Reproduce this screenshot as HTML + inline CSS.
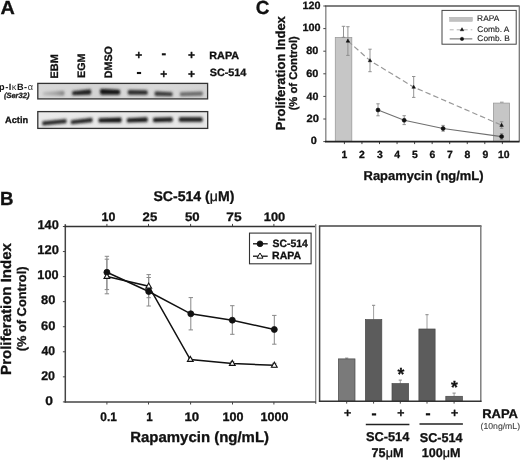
<!DOCTYPE html><html><head><meta charset="utf-8"><title>Figure</title><style>html,body{margin:0;padding:0;background:#fff;width:520px;height:460px;overflow:hidden;}svg{display:block;filter:grayscale(1) blur(0.3px);}text{text-rendering:geometricPrecision;}</style></head><body>
<svg width="520" height="460" viewBox="0 0 520 460" font-family='"Liberation Sans", sans-serif'>
<defs><filter id="bl" x="-20%" y="-100%" width="140%" height="300%"><feGaussianBlur stdDeviation="0.85"/></filter><filter id="bl3" x="-20%" y="-100%" width="140%" height="300%"><feGaussianBlur stdDeviation="1.6"/></filter><linearGradient id="blotbg" x1="0" y1="0" x2="1" y2="0"><stop offset="0" stop-color="#d8d8d8"/><stop offset="0.35" stop-color="#d4d4d4"/><stop offset="0.7" stop-color="#d9d9d9"/><stop offset="1" stop-color="#d3d3d3"/></linearGradient><linearGradient id="g_ebm" x1="0" y1="0" x2="1" y2="0"><stop offset="0" stop-color="#bdbdbd"/><stop offset="0.6" stop-color="#a4a4a4"/><stop offset="1" stop-color="#858585"/></linearGradient><linearGradient id="blotbg2" x1="0" y1="0" x2="1" y2="0"><stop offset="0" stop-color="#eaeaea"/><stop offset="1" stop-color="#e6e6e6"/></linearGradient></defs>
<text x="0.5" y="14" font-size="19" font-weight="bold" fill="#111" stroke="#111" stroke-width="0.3" textLength="14.34" lengthAdjust="spacingAndGlyphs" >A</text>
<text transform="translate(58,78.51) rotate(-90)" font-size="10.8" font-weight="bold" fill="#111" stroke="#111" stroke-width="0.3" textLength="24.24" lengthAdjust="spacingAndGlyphs">EBM</text>
<text transform="translate(85.2,77.99) rotate(-90)" font-size="10.8" font-weight="bold" fill="#111" stroke="#111" stroke-width="0.3" textLength="24.32" lengthAdjust="spacingAndGlyphs">EGM</text>
<text transform="translate(111.8,78.2) rotate(-90)" font-size="10.8" font-weight="bold" fill="#111" stroke="#111" stroke-width="0.3" textLength="32.18" lengthAdjust="spacingAndGlyphs">DMSO</text>
<text x="138.7" y="59.3" font-size="12" font-weight="bold" text-anchor="middle" fill="#111" stroke="#111" stroke-width="0.3" >+</text>
<text x="191.6" y="59.3" font-size="12" font-weight="bold" text-anchor="middle" fill="#111" stroke="#111" stroke-width="0.3" >+</text>
<rect x="161.85" y="53.25" width="3.9" height="2.1" fill="#111" stroke="none" stroke-width="1" />
<rect x="136.9" y="71.95" width="4.2" height="2.1" fill="#111" stroke="none" stroke-width="1" />
<text x="163.8" y="77.9" font-size="12" font-weight="bold" text-anchor="middle" fill="#111" stroke="#111" stroke-width="0.3" >+</text>
<text x="191.6" y="77.9" font-size="12" font-weight="bold" text-anchor="middle" fill="#111" stroke="#111" stroke-width="0.3" >+</text>
<text x="209.3" y="59.4" font-size="10.6" font-weight="bold" fill="#111" stroke="#111" stroke-width="0.3" textLength="29.82" lengthAdjust="spacingAndGlyphs" >RAPA</text>
<text x="209.68" y="76.4" font-size="10.6" font-weight="bold" fill="#111" stroke="#111" stroke-width="0.3" textLength="36.69" lengthAdjust="spacingAndGlyphs" >SC-514</text>
<rect x="37.8" y="83.4" width="169.8" height="15.5" fill="url(#blotbg)" stroke="#333" stroke-width="1.3" />
<path d="M42.6,91.1 L64.4,89.8 L64.4,96.6 L42.6,96.5Z" fill="url(#g_ebm)" opacity="0.22" filter="url(#bl3)"/>
<path d="M43.6,92.3 L63.4,91 Q65.38,93.2 63.4,95.4 L43.6,95.3 Q42.25,93.8 43.6,92.3Z" fill="url(#g_ebm)" filter="url(#bl)"/>
<path d="M71.9,90.3 L91,88.2 L91,95.6 L71.9,96.1Z" fill="#222" opacity="0.22" filter="url(#bl3)"/>
<path d="M72.9,91.5 L90,89.4 Q92.25,91.9 90,94.4 L72.9,94.9 Q71.37,93.2 72.9,91.5Z" fill="#222" filter="url(#bl)"/>
<path d="M100.2,87.9 L120.1,88.8 L120.1,95.6 L100.2,95.7Z" fill="#161616" opacity="0.22" filter="url(#bl3)"/>
<path d="M101.2,89.1 L119.1,90 Q121.08,92.2 119.1,94.4 L101.2,94.5 Q98.77,91.8 101.2,89.1Z" fill="#161616" filter="url(#bl)"/>
<path d="M127.8,89 L147.7,89.4 L147.7,95.8 L127.8,95.6Z" fill="#2a2a2a" opacity="0.22" filter="url(#bl3)"/>
<path d="M128.8,90.2 L146.7,90.6 Q148.5,92.6 146.7,94.6 L128.8,94.4 Q126.91,92.3 128.8,90.2Z" fill="#2a2a2a" filter="url(#bl)"/>
<path d="M154.6,90.4 L172.8,91.3 L172.8,97.3 L154.6,97Z" fill="#3a3a3a" opacity="0.22" filter="url(#bl3)"/>
<path d="M155.6,91.6 L171.8,92.5 Q173.42,94.3 171.8,96.1 L155.6,95.8 Q153.71,93.7 155.6,91.6Z" fill="#3a3a3a" filter="url(#bl)"/>
<path d="M179.7,91.2 L203,90.6 L203,96.6 L179.7,97.2Z" fill="#6a6a6a" opacity="0.22" filter="url(#bl3)"/>
<path d="M180.7,92.4 L202,91.8 Q203.62,93.6 202,95.4 L180.7,96 Q179.08,94.2 180.7,92.4Z" fill="#6a6a6a" filter="url(#bl)"/>
<rect x="37.8" y="111.6" width="169.9" height="16.8" fill="url(#blotbg2)" stroke="#333" stroke-width="1.3" />
<path d="M42,120.4 L66.8,118.1 L66.8,124.3 L42,126.4Z" fill="#2a2a2a" opacity="0.22" filter="url(#bl3)"/>
<path d="M43,121.6 L65.8,119.3 Q67.51,121.2 65.8,123.1 L43,125.2 Q41.38,123.4 43,121.6Z" fill="#2a2a2a" filter="url(#bl)"/>
<path d="M70.6,119.2 L92.7,116.7 L92.7,123.1 L70.6,125.2Z" fill="#262626" opacity="0.22" filter="url(#bl3)"/>
<path d="M71.6,120.4 L91.7,117.9 Q93.5,119.9 91.7,121.9 L71.6,124 Q69.98,122.2 71.6,120.4Z" fill="#262626" filter="url(#bl)"/>
<path d="M98.3,117.2 L121.6,116.6 L121.6,123.4 L98.3,123.4Z" fill="#151515" opacity="0.22" filter="url(#bl3)"/>
<path d="M99.3,118.4 L120.6,117.8 Q122.58,120 120.6,122.2 L99.3,122.2 Q97.59,120.3 99.3,118.4Z" fill="#151515" filter="url(#bl)"/>
<path d="M126.6,117.4 L147.7,116.2 L147.7,123 L126.6,123.4Z" fill="#1a1a1a" opacity="0.22" filter="url(#bl3)"/>
<path d="M127.6,118.6 L146.7,117.4 Q148.68,119.6 146.7,121.8 L127.6,122.2 Q125.98,120.4 127.6,118.6Z" fill="#1a1a1a" filter="url(#bl)"/>
<path d="M152.9,116.8 L172.8,116.4 L172.8,122.8 L152.9,123.2Z" fill="#1a1a1a" opacity="0.22" filter="url(#bl3)"/>
<path d="M153.9,118 L171.8,117.6 Q173.6,119.6 171.8,121.6 L153.9,122 Q152.1,120 153.9,118Z" fill="#1a1a1a" filter="url(#bl)"/>
<path d="M178.8,116.4 L202.7,116.4 L202.7,122.8 L178.8,122.8Z" fill="#1a1a1a" opacity="0.22" filter="url(#bl3)"/>
<path d="M179.8,117.6 L201.7,117.6 Q203.5,119.6 201.7,121.6 L179.8,121.6 Q178,119.6 179.8,117.6Z" fill="#1a1a1a" filter="url(#bl)"/>
<text x="-0.9" y="89.6" font-size="9.2" fill="#111" font-weight="bold" letter-spacing="0.5">p-I<tspan font-weight="normal" fill="#333">κ</tspan>B-<tspan font-weight="normal" fill="#333">α</tspan></text>
<text x="3.94" y="98.1" font-size="7.6" font-weight="bold" font-style="italic" fill="#222" stroke="#222" stroke-width="0.3" textLength="25.46" lengthAdjust="spacingAndGlyphs" >(Ser32)</text>
<text x="5.07" y="123.2" font-size="9.2" font-weight="bold" fill="#111" stroke="#111" stroke-width="0.3" textLength="23.09" lengthAdjust="spacingAndGlyphs" >Actin</text>
<text x="255.84" y="14" font-size="19" font-weight="bold" fill="#111" stroke="#111" stroke-width="0.3" textLength="13.67" lengthAdjust="spacingAndGlyphs" >C</text>
<line x1="325.8" y1="6" x2="325.8" y2="141.6" stroke="#8a8a8a" stroke-width="1.4" />
<line x1="325.1" y1="6" x2="519.6" y2="6" stroke="#555" stroke-width="1.5" />
<line x1="519.3" y1="6" x2="519.3" y2="141.6" stroke="#777" stroke-width="1.3" />
<line x1="323.3" y1="141.6" x2="325.8" y2="141.6" stroke="#444" stroke-width="1" />
<text x="310.66" y="143.96" font-size="10.6" font-weight="bold" fill="#111" stroke="#111" stroke-width="0.3" textLength="6.09" lengthAdjust="spacingAndGlyphs" >0</text>
<line x1="323.3" y1="119" x2="325.8" y2="119" stroke="#444" stroke-width="1" />
<text x="306.51" y="121.56" font-size="10.6" font-weight="bold" fill="#111" stroke="#111" stroke-width="0.3" textLength="12.47" lengthAdjust="spacingAndGlyphs" >20</text>
<line x1="323.3" y1="96.4" x2="325.8" y2="96.4" stroke="#444" stroke-width="1" />
<text x="306.44" y="99.56" font-size="10.6" font-weight="bold" fill="#111" stroke="#111" stroke-width="0.3" textLength="11.91" lengthAdjust="spacingAndGlyphs" >40</text>
<line x1="323.3" y1="73.8" x2="325.8" y2="73.8" stroke="#444" stroke-width="1" />
<text x="306.22" y="77.16" font-size="10.6" font-weight="bold" fill="#111" stroke="#111" stroke-width="0.3" textLength="12.14" lengthAdjust="spacingAndGlyphs" >60</text>
<line x1="323.3" y1="51.2" x2="325.8" y2="51.2" stroke="#444" stroke-width="1" />
<text x="306.27" y="54.36" font-size="10.6" font-weight="bold" fill="#111" stroke="#111" stroke-width="0.3" textLength="12.09" lengthAdjust="spacingAndGlyphs" >80</text>
<line x1="323.3" y1="28.6" x2="325.8" y2="28.6" stroke="#444" stroke-width="1" />
<text x="302.4" y="31.36" font-size="10.6" font-weight="bold" fill="#111" stroke="#111" stroke-width="0.3" textLength="18.08" lengthAdjust="spacingAndGlyphs" >100</text>
<line x1="323.3" y1="6" x2="325.8" y2="6" stroke="#444" stroke-width="1" />
<text x="302.4" y="8.61" font-size="10.6" font-weight="bold" fill="#111" stroke="#111" stroke-width="0.3" textLength="18.08" lengthAdjust="spacingAndGlyphs" >120</text>
<line x1="344.4" y1="141.6" x2="344.4" y2="144.1" stroke="#444" stroke-width="1" />
<text x="344.4" y="157.5" font-size="10.4" font-weight="bold" text-anchor="middle" fill="#111" stroke="#111" stroke-width="0.3" >1</text>
<line x1="361.95" y1="141.6" x2="361.95" y2="144.1" stroke="#444" stroke-width="1" />
<text x="361.9" y="157.5" font-size="10.4" font-weight="bold" text-anchor="middle" fill="#111" stroke="#111" stroke-width="0.3" >2</text>
<line x1="379.5" y1="141.6" x2="379.5" y2="144.1" stroke="#444" stroke-width="1" />
<text x="379.8" y="157.5" font-size="10.4" font-weight="bold" text-anchor="middle" fill="#111" stroke="#111" stroke-width="0.3" >3</text>
<line x1="397.05" y1="141.6" x2="397.05" y2="144.1" stroke="#444" stroke-width="1" />
<text x="397.05" y="157.5" font-size="10.4" font-weight="bold" text-anchor="middle" fill="#111" stroke="#111" stroke-width="0.3" >4</text>
<line x1="414.6" y1="141.6" x2="414.6" y2="144.1" stroke="#444" stroke-width="1" />
<text x="415" y="157.5" font-size="10.4" font-weight="bold" text-anchor="middle" fill="#111" stroke="#111" stroke-width="0.3" >5</text>
<line x1="432.15" y1="141.6" x2="432.15" y2="144.1" stroke="#444" stroke-width="1" />
<text x="432.3" y="157.5" font-size="10.4" font-weight="bold" text-anchor="middle" fill="#111" stroke="#111" stroke-width="0.3" >6</text>
<line x1="449.7" y1="141.6" x2="449.7" y2="144.1" stroke="#444" stroke-width="1" />
<text x="449.85" y="157.5" font-size="10.4" font-weight="bold" text-anchor="middle" fill="#111" stroke="#111" stroke-width="0.3" >7</text>
<line x1="467.25" y1="141.6" x2="467.25" y2="144.1" stroke="#444" stroke-width="1" />
<text x="467.3" y="157.5" font-size="10.4" font-weight="bold" text-anchor="middle" fill="#111" stroke="#111" stroke-width="0.3" >8</text>
<line x1="484.8" y1="141.6" x2="484.8" y2="144.1" stroke="#444" stroke-width="1" />
<text x="485.4" y="157.5" font-size="10.4" font-weight="bold" text-anchor="middle" fill="#111" stroke="#111" stroke-width="0.3" >9</text>
<line x1="502.35" y1="141.6" x2="502.35" y2="144.1" stroke="#444" stroke-width="1" />
<text x="503.7" y="157.5" font-size="10.4" font-weight="bold" text-anchor="middle" fill="#111" stroke="#111" stroke-width="0.3" >10</text>
<rect x="335.3" y="37.53" width="16.5" height="104.07" fill="#c6c6c6" stroke="#9c9c9c" stroke-width="0.8" />
<rect x="493.4" y="103.1" width="16.1" height="38.5" fill="#c6c6c6" stroke="#9c9c9c" stroke-width="0.8" />
<line x1="343.5" y1="26.3" x2="343.5" y2="37.3" stroke="#888" stroke-width="0.9" />
<line x1="341.75" y1="26.3" x2="345.25" y2="26.3" stroke="#888" stroke-width="0.9" />
<line x1="341.75" y1="37.3" x2="345.25" y2="37.3" stroke="#888" stroke-width="0.9" />
<line x1="500" y1="102.2" x2="503.6" y2="102.2" stroke="#888" stroke-width="0.9" />
<polyline points="347.9,41.0 370.0,60.6 413.7,87.1 501.6,125.2" fill="none" stroke="#999" stroke-width="1.2" stroke-dasharray="5.5,3"/>
<line x1="347.9" y1="26.7" x2="347.9" y2="55.4" stroke="#888" stroke-width="0.9" />
<line x1="346.2" y1="26.7" x2="349.6" y2="26.7" stroke="#888" stroke-width="0.9" />
<line x1="346.2" y1="55.4" x2="349.6" y2="55.4" stroke="#888" stroke-width="0.9" />
<polygon points="347.9,39.07 346.1,42.18 349.7,42.18" fill="#111" stroke="#111" stroke-width="0.5"/>
<line x1="370" y1="49.2" x2="370" y2="71.7" stroke="#888" stroke-width="0.9" />
<line x1="368.3" y1="49.2" x2="371.7" y2="49.2" stroke="#888" stroke-width="0.9" />
<line x1="368.3" y1="71.7" x2="371.7" y2="71.7" stroke="#888" stroke-width="0.9" />
<polygon points="370,58.67 368.2,61.78 371.8,61.78" fill="#111" stroke="#111" stroke-width="0.5"/>
<line x1="413.7" y1="76.5" x2="413.7" y2="97.4" stroke="#888" stroke-width="0.9" />
<line x1="412" y1="76.5" x2="415.4" y2="76.5" stroke="#888" stroke-width="0.9" />
<line x1="412" y1="97.4" x2="415.4" y2="97.4" stroke="#888" stroke-width="0.9" />
<polygon points="413.7,85.17 411.9,88.28 415.5,88.28" fill="#111" stroke="#111" stroke-width="0.5"/>
<line x1="501.6" y1="121.8" x2="501.6" y2="128.3" stroke="#888" stroke-width="0.9" />
<line x1="499.9" y1="121.8" x2="503.3" y2="121.8" stroke="#888" stroke-width="0.9" />
<line x1="499.9" y1="128.3" x2="503.3" y2="128.3" stroke="#888" stroke-width="0.9" />
<polygon points="501.6,123.27 499.8,126.38 503.4,126.38" fill="#111" stroke="#111" stroke-width="0.5"/>
<polyline points="378.0,110.0 404.2,120.3 443.1,128.5 501.6,136.6" fill="none" stroke="#707070" stroke-width="1.1"/>
<line x1="378" y1="103.8" x2="378" y2="115.8" stroke="#888" stroke-width="0.9" />
<line x1="376.3" y1="103.8" x2="379.7" y2="103.8" stroke="#888" stroke-width="0.9" />
<line x1="376.3" y1="115.8" x2="379.7" y2="115.8" stroke="#888" stroke-width="0.9" />
<circle cx="378" cy="110" r="2.0" fill="#111" stroke="#111" stroke-width="0.6"/>
<line x1="404.2" y1="115.7" x2="404.2" y2="124.6" stroke="#888" stroke-width="0.9" />
<line x1="402.5" y1="115.7" x2="405.9" y2="115.7" stroke="#888" stroke-width="0.9" />
<line x1="402.5" y1="124.6" x2="405.9" y2="124.6" stroke="#888" stroke-width="0.9" />
<circle cx="404.2" cy="120.3" r="2.0" fill="#111" stroke="#111" stroke-width="0.6"/>
<line x1="443.1" y1="125.4" x2="443.1" y2="131.2" stroke="#888" stroke-width="0.9" />
<line x1="441.4" y1="125.4" x2="444.8" y2="125.4" stroke="#888" stroke-width="0.9" />
<line x1="441.4" y1="131.2" x2="444.8" y2="131.2" stroke="#888" stroke-width="0.9" />
<circle cx="443.1" cy="128.5" r="2.0" fill="#111" stroke="#111" stroke-width="0.6"/>
<line x1="501.6" y1="133.6" x2="501.6" y2="139.4" stroke="#888" stroke-width="0.9" />
<line x1="499.9" y1="133.6" x2="503.3" y2="133.6" stroke="#888" stroke-width="0.9" />
<line x1="499.9" y1="139.4" x2="503.3" y2="139.4" stroke="#888" stroke-width="0.9" />
<circle cx="501.6" cy="136.6" r="2.0" fill="#111" stroke="#111" stroke-width="0.6"/>
<line x1="325" y1="141.6" x2="519.6" y2="141.6" stroke="#222" stroke-width="1.6" />
<rect x="442" y="10.4" width="74.2" height="33.8" fill="#fff" stroke="#444" stroke-width="1" />
<rect x="449.7" y="17.3" width="22.6" height="4" fill="#c0c0c0" stroke="#aaa" stroke-width="0.5" />
<text x="477.13" y="21.3" font-size="8.1" font-weight="normal" fill="#222" stroke="#222" stroke-width="0.12" textLength="22.1" lengthAdjust="spacingAndGlyphs" >RAPA</text>
<line x1="449.7" y1="29.8" x2="472.3" y2="29.8" stroke="#b4b4b4" stroke-width="1" stroke-dasharray="4,3"/>
<polygon points="462,27.67 460.2,30.78 463.8,30.78" fill="#111" stroke="#111" stroke-width="0.5"/>
<text x="477.38" y="32" font-size="8.1" font-weight="normal" fill="#222" stroke="#222" stroke-width="0.12" textLength="32.02" lengthAdjust="spacingAndGlyphs" >Comb. A</text>
<line x1="449.7" y1="38.9" x2="472.3" y2="38.9" stroke="#666" stroke-width="1" />
<circle cx="462" cy="38.9" r="1.7" fill="#111" stroke="#111" stroke-width="0.5"/>
<text x="477.38" y="41.4" font-size="8.1" font-weight="normal" fill="#222" stroke="#222" stroke-width="0.12" textLength="32.44" lengthAdjust="spacingAndGlyphs" >Comb. B</text>
<text transform="translate(284.6,130.14) rotate(-90)" font-size="13.1" font-weight="bold" fill="#111" stroke="#111" stroke-width="0.3" textLength="113.97" lengthAdjust="spacingAndGlyphs">Proliferation Index</text>
<text transform="translate(297.4,110.36) rotate(-90)" font-size="11.2" font-weight="bold" fill="#111" stroke="#111" stroke-width="0.3" textLength="74.12" lengthAdjust="spacingAndGlyphs">(% of Control)</text>
<text x="363.56" y="180.3" font-size="12.9" font-weight="bold" fill="#111" stroke="#111" stroke-width="0.3" textLength="119.97" lengthAdjust="spacingAndGlyphs" >Rapamycin (ng/mL)</text>
<text x="0.09" y="204.6" font-size="19" font-weight="bold" fill="#111" stroke="#111" stroke-width="0.3" textLength="13.5" lengthAdjust="spacingAndGlyphs" >B</text>
<line x1="62.9" y1="401.9" x2="65.3" y2="401.9" stroke="#444" stroke-width="1" />
<text x="45.24" y="404.67" font-size="12.6" font-weight="bold" fill="#111" stroke="#111" stroke-width="0.3" textLength="7.73" lengthAdjust="spacingAndGlyphs" >0</text>
<line x1="62.9" y1="376.84" x2="65.3" y2="376.84" stroke="#444" stroke-width="1" />
<text x="41.16" y="379.62" font-size="12.6" font-weight="bold" fill="#111" stroke="#111" stroke-width="0.3" textLength="13.86" lengthAdjust="spacingAndGlyphs" >20</text>
<line x1="62.9" y1="351.79" x2="65.3" y2="351.79" stroke="#444" stroke-width="1" />
<text x="41.42" y="354.56" font-size="12.6" font-weight="bold" fill="#111" stroke="#111" stroke-width="0.3" textLength="13.6" lengthAdjust="spacingAndGlyphs" >40</text>
<line x1="62.9" y1="326.73" x2="65.3" y2="326.73" stroke="#444" stroke-width="1" />
<text x="40.95" y="329.5" font-size="12.6" font-weight="bold" fill="#111" stroke="#111" stroke-width="0.3" textLength="14.4" lengthAdjust="spacingAndGlyphs" >60</text>
<line x1="62.9" y1="301.67" x2="65.3" y2="301.67" stroke="#444" stroke-width="1" />
<text x="41.01" y="304.44" font-size="12.6" font-weight="bold" fill="#111" stroke="#111" stroke-width="0.3" textLength="14.33" lengthAdjust="spacingAndGlyphs" >80</text>
<line x1="62.9" y1="276.61" x2="65.3" y2="276.61" stroke="#444" stroke-width="1" />
<text x="37.38" y="279.39" font-size="12.6" font-weight="bold" fill="#111" stroke="#111" stroke-width="0.3" textLength="21.18" lengthAdjust="spacingAndGlyphs" >100</text>
<line x1="62.9" y1="251.56" x2="65.3" y2="251.56" stroke="#444" stroke-width="1" />
<text x="37.36" y="254.33" font-size="12.6" font-weight="bold" fill="#111" stroke="#111" stroke-width="0.3" textLength="21.61" lengthAdjust="spacingAndGlyphs" >120</text>
<line x1="62.9" y1="226.5" x2="65.3" y2="226.5" stroke="#444" stroke-width="1" />
<text x="37.47" y="229.27" font-size="12.6" font-weight="bold" fill="#111" stroke="#111" stroke-width="0.3" textLength="21.28" lengthAdjust="spacingAndGlyphs" >140</text>
<line x1="106.9" y1="223.9" x2="106.9" y2="226.5" stroke="#444" stroke-width="1" />
<text x="101.49" y="220.7" font-size="12.2" font-weight="bold" fill="#111" stroke="#111" stroke-width="0.3" textLength="13.84" lengthAdjust="spacingAndGlyphs" >10</text>
<line x1="148.5" y1="223.9" x2="148.5" y2="226.5" stroke="#444" stroke-width="1" />
<text x="142.64" y="220.7" font-size="12.2" font-weight="bold" fill="#111" stroke="#111" stroke-width="0.3" textLength="14.62" lengthAdjust="spacingAndGlyphs" >25</text>
<line x1="190.6" y1="223.9" x2="190.6" y2="226.5" stroke="#444" stroke-width="1" />
<text x="184.9" y="220.7" font-size="12.2" font-weight="bold" fill="#111" stroke="#111" stroke-width="0.3" textLength="14.65" lengthAdjust="spacingAndGlyphs" >50</text>
<line x1="232.5" y1="223.9" x2="232.5" y2="226.5" stroke="#444" stroke-width="1" />
<text x="226.38" y="220.7" font-size="12.2" font-weight="bold" fill="#111" stroke="#111" stroke-width="0.3" textLength="15.29" lengthAdjust="spacingAndGlyphs" >75</text>
<line x1="273.9" y1="223.9" x2="273.9" y2="226.5" stroke="#444" stroke-width="1" />
<text x="263.76" y="220.7" font-size="12.2" font-weight="bold" fill="#111" stroke="#111" stroke-width="0.3" textLength="21.5" lengthAdjust="spacingAndGlyphs" >100</text>
<line x1="106.9" y1="401.9" x2="106.9" y2="404.5" stroke="#444" stroke-width="1" />
<text x="100.33" y="421.2" font-size="12.4" font-weight="bold" fill="#111" stroke="#111" stroke-width="0.3" textLength="16.47" lengthAdjust="spacingAndGlyphs" >0.1</text>
<line x1="148.5" y1="401.9" x2="148.5" y2="404.5" stroke="#444" stroke-width="1" />
<text x="146.15" y="421.2" font-size="12.4" font-weight="bold" fill="#111" stroke="#111" stroke-width="0.3" textLength="6.46" lengthAdjust="spacingAndGlyphs" >1</text>
<line x1="190.6" y1="401.9" x2="190.6" y2="404.5" stroke="#444" stroke-width="1" />
<text x="184.44" y="421.2" font-size="12.4" font-weight="bold" fill="#111" stroke="#111" stroke-width="0.3" textLength="14.72" lengthAdjust="spacingAndGlyphs" >10</text>
<line x1="232.5" y1="401.9" x2="232.5" y2="404.5" stroke="#444" stroke-width="1" />
<text x="222.58" y="421.2" font-size="12.4" font-weight="bold" fill="#111" stroke="#111" stroke-width="0.3" textLength="20.96" lengthAdjust="spacingAndGlyphs" >100</text>
<line x1="273.9" y1="401.9" x2="273.9" y2="404.5" stroke="#444" stroke-width="1" />
<text x="260.59" y="421.2" font-size="12.4" font-weight="bold" fill="#111" stroke="#111" stroke-width="0.3" textLength="27.81" lengthAdjust="spacingAndGlyphs" >1000</text>
<text x="193.9" y="201.2" font-size="14.1" font-weight="bold" text-anchor="middle" fill="#111" stroke="#111" stroke-width="0.3" >SC-514 (<tspan font-weight="normal">μ</tspan>M)</text>
<text x="130.23" y="442.3" font-size="14.7" font-weight="bold" fill="#111" stroke="#111" stroke-width="0.3" textLength="138.81" lengthAdjust="spacingAndGlyphs" >Rapamycin (ng/mL)</text>
<text transform="translate(10.9,374.88) rotate(-90)" font-size="14.6" font-weight="bold" fill="#111" stroke="#111" stroke-width="0.3" textLength="131.72" lengthAdjust="spacingAndGlyphs">Proliferation Index</text>
<text transform="translate(25.8,351.34) rotate(-90)" font-size="12.6" font-weight="bold" fill="#111" stroke="#111" stroke-width="0.3" textLength="84.88" lengthAdjust="spacingAndGlyphs">(% of Control)</text>
<line x1="106.9" y1="256.3" x2="106.9" y2="289.6" stroke="#888" stroke-width="1" />
<line x1="104.7" y1="256.3" x2="109.1" y2="256.3" stroke="#888" stroke-width="1" />
<line x1="104.7" y1="289.6" x2="109.1" y2="289.6" stroke="#888" stroke-width="1" />
<line x1="148.7" y1="277.5" x2="148.7" y2="306" stroke="#888" stroke-width="1" />
<line x1="146.5" y1="277.5" x2="150.9" y2="277.5" stroke="#888" stroke-width="1" />
<line x1="146.5" y1="306" x2="150.9" y2="306" stroke="#888" stroke-width="1" />
<line x1="190.8" y1="297.6" x2="190.8" y2="329.9" stroke="#888" stroke-width="1" />
<line x1="188.6" y1="297.6" x2="193" y2="297.6" stroke="#888" stroke-width="1" />
<line x1="188.6" y1="329.9" x2="193" y2="329.9" stroke="#888" stroke-width="1" />
<line x1="232.3" y1="305.7" x2="232.3" y2="334.3" stroke="#888" stroke-width="1" />
<line x1="230.1" y1="305.7" x2="234.5" y2="305.7" stroke="#888" stroke-width="1" />
<line x1="230.1" y1="334.3" x2="234.5" y2="334.3" stroke="#888" stroke-width="1" />
<line x1="274.3" y1="315.4" x2="274.3" y2="344.2" stroke="#888" stroke-width="1" />
<line x1="272.1" y1="315.4" x2="276.5" y2="315.4" stroke="#888" stroke-width="1" />
<line x1="272.1" y1="344.2" x2="276.5" y2="344.2" stroke="#888" stroke-width="1" />
<line x1="106.9" y1="259.2" x2="106.9" y2="293.8" stroke="#888" stroke-width="1" />
<line x1="104.7" y1="259.2" x2="109.1" y2="259.2" stroke="#888" stroke-width="1" />
<line x1="104.7" y1="293.8" x2="109.1" y2="293.8" stroke="#888" stroke-width="1" />
<line x1="148.7" y1="274.6" x2="148.7" y2="297.7" stroke="#888" stroke-width="1" />
<line x1="146.5" y1="274.6" x2="150.9" y2="274.6" stroke="#888" stroke-width="1" />
<line x1="146.5" y1="297.7" x2="150.9" y2="297.7" stroke="#888" stroke-width="1" />
<line x1="190.3" y1="358.3" x2="190.3" y2="360.7" stroke="#888" stroke-width="1" />
<line x1="188.1" y1="358.3" x2="192.5" y2="358.3" stroke="#888" stroke-width="1" />
<line x1="188.1" y1="360.7" x2="192.5" y2="360.7" stroke="#888" stroke-width="1" />
<line x1="232.3" y1="361.8" x2="232.3" y2="365.2" stroke="#888" stroke-width="1" />
<line x1="230.1" y1="361.8" x2="234.5" y2="361.8" stroke="#888" stroke-width="1" />
<line x1="230.1" y1="365.2" x2="234.5" y2="365.2" stroke="#888" stroke-width="1" />
<line x1="274.3" y1="363.3" x2="274.3" y2="367.3" stroke="#888" stroke-width="1" />
<line x1="272.1" y1="363.3" x2="276.5" y2="363.3" stroke="#888" stroke-width="1" />
<line x1="272.1" y1="367.3" x2="276.5" y2="367.3" stroke="#888" stroke-width="1" />
<polyline points="106.9,272.3 148.7,291.5 190.8,313.8 232.3,320.2 274.3,329.5" fill="none" stroke="#111" stroke-width="1.5"/>
<polyline points="106.9,276.5 148.7,286.2 190.3,359.5 232.3,363.5 274.3,365.3" fill="none" stroke="#111" stroke-width="1.5"/>
<circle cx="106.9" cy="272.3" r="3.0" fill="#111" stroke="#111" stroke-width="0.8"/>
<circle cx="148.7" cy="291.5" r="3.0" fill="#111" stroke="#111" stroke-width="0.8"/>
<circle cx="190.8" cy="313.8" r="3.0" fill="#111" stroke="#111" stroke-width="0.8"/>
<circle cx="232.3" cy="320.2" r="3.0" fill="#111" stroke="#111" stroke-width="0.8"/>
<circle cx="274.3" cy="329.5" r="3.0" fill="#111" stroke="#111" stroke-width="0.8"/>
<polygon points="106.9,273.39 104,278.41 109.8,278.41" fill="#fff" stroke="#111" stroke-width="1.1"/>
<polygon points="148.7,283.09 145.8,288.11 151.6,288.11" fill="#fff" stroke="#111" stroke-width="1.1"/>
<polygon points="190.3,356.39 187.4,361.41 193.2,361.41" fill="#fff" stroke="#111" stroke-width="1.1"/>
<polygon points="232.3,360.39 229.4,365.41 235.2,365.41" fill="#fff" stroke="#111" stroke-width="1.1"/>
<polygon points="274.3,362.19 271.4,367.21 277.2,367.21" fill="#fff" stroke="#111" stroke-width="1.1"/>
<line x1="65.3" y1="224.2" x2="65.3" y2="402.6" stroke="#444" stroke-width="1.5" />
<line x1="64.6" y1="226.5" x2="315.4" y2="226.5" stroke="#333" stroke-width="1.5" />
<line x1="315.7" y1="224.1" x2="315.7" y2="404.1" stroke="#8a8a8a" stroke-width="1.3" />
<line x1="64.6" y1="401.9" x2="316.1" y2="401.9" stroke="#444" stroke-width="1.5" />
<rect x="249.5" y="233.1" width="61.6" height="30.7" fill="#fff" stroke="#333" stroke-width="1.1" />
<line x1="253" y1="243.8" x2="267.7" y2="243.8" stroke="#111" stroke-width="1.3" />
<circle cx="260" cy="243.8" r="2.9" fill="#111" stroke="#111" stroke-width="0.8"/>
<text x="272.49" y="246.7" font-size="10.6" font-weight="bold" fill="#111" stroke="#111" stroke-width="0.3" textLength="35.27" lengthAdjust="spacingAndGlyphs" >SC-514</text>
<line x1="253" y1="256.2" x2="267.7" y2="256.2" stroke="#111" stroke-width="1.3" />
<polygon points="260,252.98 257,258.17 263,258.17" fill="#fff" stroke="#111" stroke-width="1"/>
<text x="272.12" y="259" font-size="10.6" font-weight="bold" fill="#111" stroke="#111" stroke-width="0.3" textLength="28.99" lengthAdjust="spacingAndGlyphs" >RAPA</text>
<line x1="346.7" y1="358.1" x2="346.7" y2="358.9" stroke="#959595" stroke-width="0.9" />
<line x1="345.1" y1="358.1" x2="348.3" y2="358.1" stroke="#888" stroke-width="1" />
<rect x="338.4" y="358.9" width="16.6" height="42.3" fill="#7a7a7a" stroke="#484848" stroke-width="0.7" />
<line x1="346.7" y1="401.2" x2="346.7" y2="403.6" stroke="#444" stroke-width="1" />
<line x1="373.6" y1="305.3" x2="373.6" y2="319.6" stroke="#959595" stroke-width="0.9" />
<line x1="372" y1="305.3" x2="375.2" y2="305.3" stroke="#888" stroke-width="1" />
<rect x="365.4" y="319.6" width="16.4" height="81.6" fill="#5c5c5c" stroke="#484848" stroke-width="0.7" />
<line x1="373.6" y1="401.2" x2="373.6" y2="403.6" stroke="#444" stroke-width="1" />
<line x1="400.3" y1="380.1" x2="400.3" y2="383.6" stroke="#959595" stroke-width="0.9" />
<line x1="398.7" y1="380.1" x2="401.9" y2="380.1" stroke="#888" stroke-width="1" />
<rect x="392" y="383.6" width="16.6" height="17.6" fill="#5c5c5c" stroke="#484848" stroke-width="0.7" />
<line x1="400.3" y1="401.2" x2="400.3" y2="403.6" stroke="#444" stroke-width="1" />
<line x1="427" y1="314.7" x2="427" y2="329" stroke="#959595" stroke-width="0.9" />
<line x1="425.4" y1="314.7" x2="428.6" y2="314.7" stroke="#888" stroke-width="1" />
<rect x="418.9" y="329" width="16.2" height="72.2" fill="#5c5c5c" stroke="#484848" stroke-width="0.7" />
<line x1="427" y1="401.2" x2="427" y2="403.6" stroke="#444" stroke-width="1" />
<line x1="454.1" y1="393.1" x2="454.1" y2="396.3" stroke="#959595" stroke-width="0.9" />
<line x1="452.5" y1="393.1" x2="455.7" y2="393.1" stroke="#888" stroke-width="1" />
<rect x="445.8" y="396.3" width="16.6" height="4.9" fill="#666" stroke="#484848" stroke-width="0.7" />
<line x1="454.1" y1="401.2" x2="454.1" y2="403.6" stroke="#444" stroke-width="1" />
<line x1="319.6" y1="226" x2="319.6" y2="401.9" stroke="#444" stroke-width="1.5" />
<line x1="318.9" y1="226" x2="481.5" y2="226" stroke="#444" stroke-width="1.5" />
<line x1="480.8" y1="226" x2="480.8" y2="401.9" stroke="#777" stroke-width="1.4" />
<line x1="318.9" y1="401.2" x2="481.5" y2="401.2" stroke="#333" stroke-width="1.5" />
<text x="401" y="380.2" font-size="17.5" font-weight="bold" text-anchor="middle" fill="#111" stroke="#111" stroke-width="0.3" >*</text>
<text x="454.3" y="392.8" font-size="17.5" font-weight="bold" text-anchor="middle" fill="#111" stroke="#111" stroke-width="0.3" >*</text>
<text x="347.7" y="417.4" font-size="12.3" font-weight="bold" text-anchor="middle" fill="#111" stroke="#111" stroke-width="0.3" >+</text>
<text x="400.8" y="417.4" font-size="12.3" font-weight="bold" text-anchor="middle" fill="#111" stroke="#111" stroke-width="0.3" >+</text>
<text x="454.7" y="417.4" font-size="12.3" font-weight="bold" text-anchor="middle" fill="#111" stroke="#111" stroke-width="0.3" >+</text>
<rect x="371.85" y="413.3" width="4.3" height="2.2" fill="#111" stroke="none" stroke-width="1" />
<rect x="425.85" y="413.2" width="4.3" height="2.2" fill="#111" stroke="none" stroke-width="1" />
<text x="482.16" y="418.4" font-size="12.6" font-weight="bold" fill="#111" stroke="#111" stroke-width="0.3" textLength="35.83" lengthAdjust="spacingAndGlyphs" >RAPA</text>
<text x="480.58" y="428.5" font-size="8.6" font-weight="normal" fill="#444" stroke="#444" stroke-width="0.12" textLength="39.46" lengthAdjust="spacingAndGlyphs" >(10ng/mL)</text>
<line x1="365.8" y1="424.5" x2="409.4" y2="424.5" stroke="#222" stroke-width="1.4" />
<line x1="419.5" y1="424" x2="462.9" y2="424" stroke="#222" stroke-width="1.4" />
<text x="365.92" y="441.3" font-size="12.8" font-weight="bold" fill="#111" stroke="#111" stroke-width="0.3" textLength="43.46" lengthAdjust="spacingAndGlyphs" >SC-514</text>
<text x="419.82" y="441.5" font-size="12.8" font-weight="bold" fill="#111" stroke="#111" stroke-width="0.3" textLength="42.75" lengthAdjust="spacingAndGlyphs" >SC-514</text>
<text x="387.5" y="457" font-size="12.6" font-weight="bold" text-anchor="middle" fill="#111" stroke="#111" stroke-width="0.3" >75<tspan font-weight="normal">μ</tspan>M</text>
<text x="441.2" y="457" font-size="12.6" font-weight="bold" text-anchor="middle" fill="#111" stroke="#111" stroke-width="0.3" >100<tspan font-weight="normal">μ</tspan>M</text>
</svg></body></html>
